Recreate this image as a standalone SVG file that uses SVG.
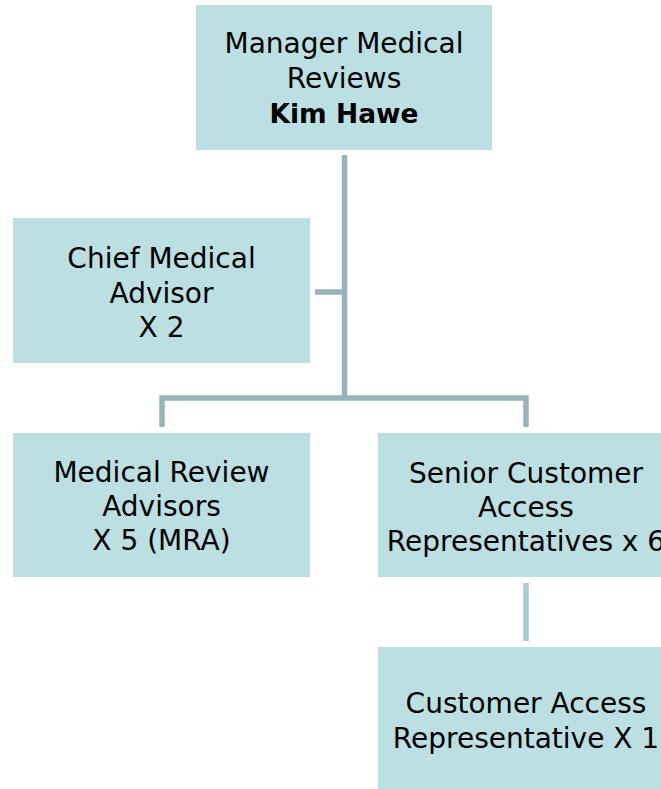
<svg xmlns="http://www.w3.org/2000/svg" width="661" height="789" viewBox="0 0 661 789">
<style>
.box{fill:#BBDFE3}
.t{font-family:"DejaVu Sans",Verdana,sans-serif;font-size:28px;fill:#000;text-anchor:middle}
.b{font-weight:bold;font-size:26.5px}
.c{stroke:#97B4B9;stroke-width:5.5;fill:none}
.c2{stroke:#A8CDD1;stroke-width:5.5;fill:none}
</style>
<rect width="661" height="789" fill="#fff"/>
<g id="connectors">
<line class="c" x1="344.5" y1="155" x2="344.5" y2="398"/>
<line class="c" x1="315" y1="292" x2="344.5" y2="292"/>
<polyline class="c" points="162,427 162,398 526,398 526,427"/>
<line class="c2" x1="526" y1="583" x2="526" y2="641"/>
</g>
<g id="manager">
<rect class="box" x="196" y="5" width="296" height="145"/>
<text class="t" x="344" y="53">Manager Medical</text>
<text class="t" x="344" y="88">Reviews</text>
<text class="t b" x="344" y="123">Kim Hawe</text>
</g>
<g id="chief">
<rect class="box" x="13" y="218" width="297" height="145"/>
<text class="t" x="161.5" y="268">Chief Medical</text>
<text class="t" x="161.5" y="303">Advisor</text>
<text class="t" x="161.5" y="337">X 2</text>
</g>
<g id="mra">
<rect class="box" x="13" y="433" width="297" height="144"/>
<text class="t" x="161.5" y="482">Medical Review</text>
<text class="t" x="161.5" y="516">Advisors</text>
<text class="t" x="161.5" y="550">X 5 (MRA)</text>
</g>
<g id="senior">
<rect class="box" x="378" y="433" width="296" height="144"/>
<text class="t" x="526" y="483">Senior Customer</text>
<text class="t" x="526" y="517">Access</text>
<text class="t" x="526" y="551">Representatives x 6</text>
</g>
<g id="customer">
<rect class="box" x="378" y="647" width="296" height="150"/>
<text class="t" x="526" y="713">Customer Access</text>
<text class="t" x="526" y="748">Representative X 1</text>
</g>
</svg>
